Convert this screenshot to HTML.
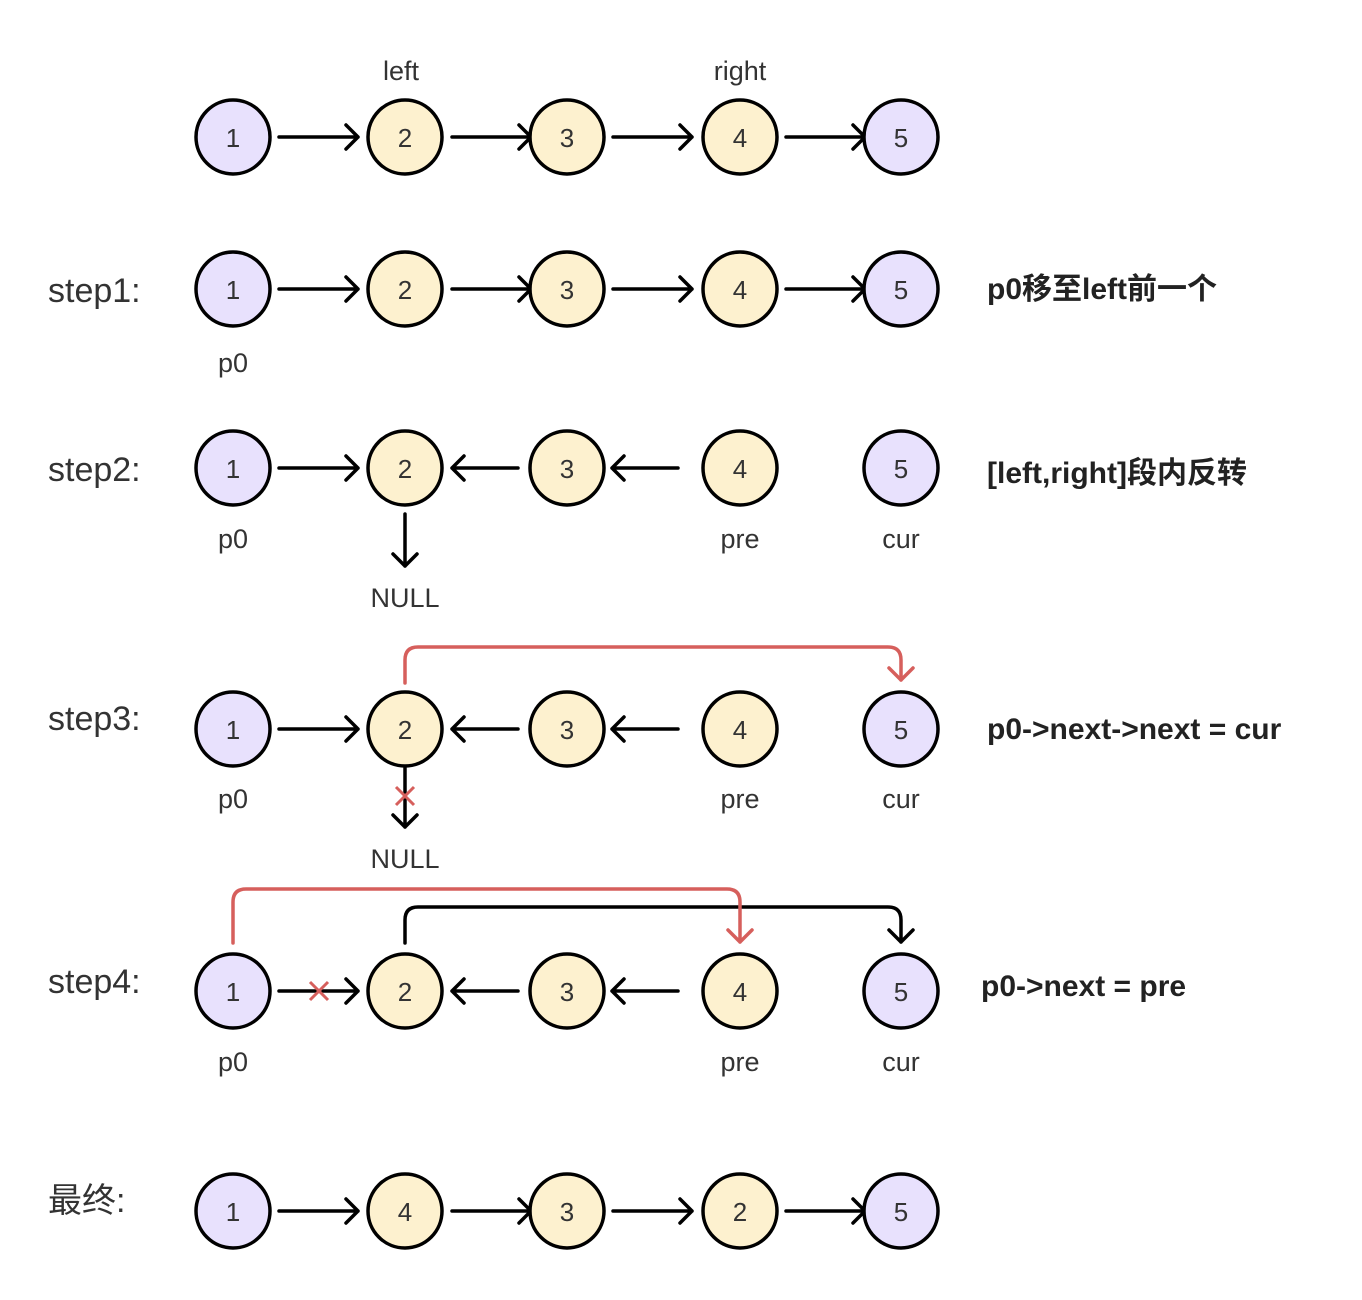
<!DOCTYPE html>
<html><head><meta charset="utf-8"><style>
html,body{margin:0;padding:0;background:#fff;}
svg{display:block;}
text{font-family:"Liberation Sans","Noto Sans CJK SC",sans-serif;fill:#2a2a2a;}
.n{font-size:26px;text-anchor:middle;dominant-baseline:central;fill:#333;}
.l{font-size:27px;text-anchor:middle;fill:#333;}
.s{font-size:34px;fill:#333;}
.b{font-size:30px;font-weight:bold;fill:#222;}
</style></head><body>
<svg width="1362" height="1300" viewBox="0 0 1362 1300" xmlns="http://www.w3.org/2000/svg">
<defs>
<g id="P"><circle r="37" fill="#e8e1fd" stroke="#000" stroke-width="3.5"/></g>
<g id="Y"><circle r="37" fill="#fdf1cf" stroke="#000" stroke-width="3.5"/></g>
<g id="F"><path d="M0 0 H79 M67 -12 L79 0 L67 12" fill="none" stroke="#000" stroke-width="3.5" stroke-linecap="round" stroke-linejoin="round"/></g>
<g id="R"><path d="M0 0 H66 M12 -12 L0 0 L12 12" fill="none" stroke="#000" stroke-width="3.5" stroke-linecap="round" stroke-linejoin="round"/></g>
</defs>
<g fill="none" stroke="#000" stroke-width="3.5"></g>

<!-- Row 0 -->
<text class="l" x="401" y="80">left</text>
<text class="l" x="740" y="80">right</text>
<use href="#F" x="279" y="137"/><use href="#F" x="452" y="137"/><use href="#F" x="613" y="137"/><use href="#F" x="786" y="137"/>
<use href="#P" x="233" y="137"/><text class="n" x="233" y="138">1</text>
<use href="#Y" x="405" y="137"/><text class="n" x="405" y="138">2</text>
<use href="#Y" x="567" y="137"/><text class="n" x="567" y="138">3</text>
<use href="#Y" x="740" y="137"/><text class="n" x="740" y="138">4</text>
<use href="#P" x="901" y="137"/><text class="n" x="901" y="138">5</text>

<!-- step1 -->
<text class="s" x="48" y="302">step1:</text>
<use href="#F" x="279" y="289"/><use href="#F" x="452" y="289"/><use href="#F" x="613" y="289"/><use href="#F" x="786" y="289"/>
<use href="#P" x="233" y="289"/><text class="n" x="233" y="290">1</text>
<use href="#Y" x="405" y="289"/><text class="n" x="405" y="290">2</text>
<use href="#Y" x="567" y="289"/><text class="n" x="567" y="290">3</text>
<use href="#Y" x="740" y="289"/><text class="n" x="740" y="290">4</text>
<use href="#P" x="901" y="289"/><text class="n" x="901" y="290">5</text>
<text class="l" x="233" y="372">p0</text>
<text class="b" x="987" y="299">p0移至left前一个</text>

<!-- step2 -->
<text class="s" x="48" y="481">step2:</text>
<use href="#F" x="279" y="468"/><use href="#R" x="452" y="468"/><use href="#R" x="612" y="468"/>
<path d="M405 514 V566 M393 554 L405 566 L417 554" fill="none" stroke="#000" stroke-width="3.5" stroke-linecap="round" stroke-linejoin="round"/>
<use href="#P" x="233" y="468"/><text class="n" x="233" y="469">1</text>
<use href="#Y" x="405" y="468"/><text class="n" x="405" y="469">2</text>
<use href="#Y" x="567" y="468"/><text class="n" x="567" y="469">3</text>
<use href="#Y" x="740" y="468"/><text class="n" x="740" y="469">4</text>
<use href="#P" x="901" y="468"/><text class="n" x="901" y="469">5</text>
<text class="l" x="233" y="548">p0</text>
<text class="l" x="740" y="548">pre</text>
<text class="l" x="901" y="548">cur</text>
<text class="l" x="405" y="607">NULL</text>
<text class="b" x="987" y="483">[left,right]段内反转</text>

<!-- step3 -->
<text class="s" x="48" y="730">step3:</text>
<path d="M405 683 V660 Q405 647 418 647 H888 Q901 647 901 660 V680 M889 668 L901 680 L913 668" fill="none" stroke="#d65f5c" stroke-width="3.5" stroke-linecap="round" stroke-linejoin="round"/>
<use href="#F" x="279" y="729"/><use href="#R" x="452" y="729"/><use href="#R" x="612" y="729"/>
<path d="M405 768 V827 M393 815 L405 827 L417 815" fill="none" stroke="#000" stroke-width="3.5" stroke-linecap="round" stroke-linejoin="round"/>
<path d="M396 787 L414 805 M414 787 L396 805" stroke="#d65f5c" stroke-width="3"/>
<use href="#P" x="233" y="729"/><text class="n" x="233" y="730">1</text>
<use href="#Y" x="405" y="729"/><text class="n" x="405" y="730">2</text>
<use href="#Y" x="567" y="729"/><text class="n" x="567" y="730">3</text>
<use href="#Y" x="740" y="729"/><text class="n" x="740" y="730">4</text>
<use href="#P" x="901" y="729"/><text class="n" x="901" y="730">5</text>
<text class="l" x="233" y="808">p0</text>
<text class="l" x="740" y="808">pre</text>
<text class="l" x="901" y="808">cur</text>
<text class="l" x="405" y="868">NULL</text>
<text class="b" x="987" y="739">p0-&gt;next-&gt;next = cur</text>

<!-- step4 -->
<text class="s" x="48" y="993">step4:</text>
<path d="M405 943 V920 Q405 907 418 907 H888 Q901 907 901 920 V942 M889 930 L901 942 L913 930" fill="none" stroke="#000" stroke-width="3.5" stroke-linecap="round" stroke-linejoin="round"/>
<path d="M233 943 V902 Q233 889 246 889 H727 Q740 889 740 902 V942 M728 930 L740 942 L752 930" fill="none" stroke="#d65f5c" stroke-width="3.5" stroke-linecap="round" stroke-linejoin="round"/>
<use href="#F" x="279" y="991"/><use href="#R" x="452" y="991"/><use href="#R" x="612" y="991"/>
<path d="M310 982 L328 1000 M328 982 L310 1000" stroke="#d65f5c" stroke-width="3"/>
<use href="#P" x="233" y="991"/><text class="n" x="233" y="992">1</text>
<use href="#Y" x="405" y="991"/><text class="n" x="405" y="992">2</text>
<use href="#Y" x="567" y="991"/><text class="n" x="567" y="992">3</text>
<use href="#Y" x="740" y="991"/><text class="n" x="740" y="992">4</text>
<use href="#P" x="901" y="991"/><text class="n" x="901" y="992">5</text>
<text class="l" x="233" y="1071">p0</text>
<text class="l" x="740" y="1071">pre</text>
<text class="l" x="901" y="1071">cur</text>
<text class="b" x="981" y="996">p0-&gt;next = pre</text>

<!-- final -->
<text class="s" x="48" y="1212">最终:</text>
<use href="#F" x="279" y="1211"/><use href="#F" x="452" y="1211"/><use href="#F" x="613" y="1211"/><use href="#F" x="786" y="1211"/>
<use href="#P" x="233" y="1211"/><text class="n" x="233" y="1212">1</text>
<use href="#Y" x="405" y="1211"/><text class="n" x="405" y="1212">4</text>
<use href="#Y" x="567" y="1211"/><text class="n" x="567" y="1212">3</text>
<use href="#Y" x="740" y="1211"/><text class="n" x="740" y="1212">2</text>
<use href="#P" x="901" y="1211"/><text class="n" x="901" y="1212">5</text>
</svg>
</body></html>
